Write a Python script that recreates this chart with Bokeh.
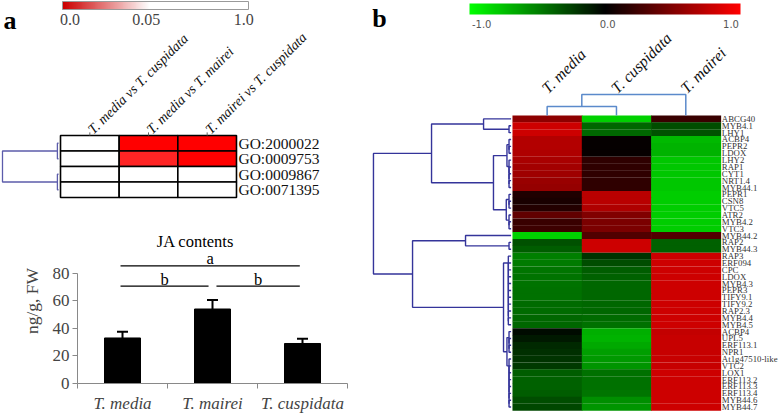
import math
from bokeh.plotting import figure
from bokeh.models import (Range1d, ColumnDataSource, LinearColorMapper, ColorBar,
                          FixedTicker, Whisker, TeeHead, Label, Grid)
from bokeh.layouts import row, column
from bokeh.embed import file_html
from bokeh.resources import INLINE
from bokeh.core.properties import value

SERIF = "Liberation Serif"

# ---------------- data: panel a (GO enrichment p-values) ----------------
a_comparisons = ["T. media vs T. cuspidata", "T. media vs T. mairei", "T. mairei  vs T. cuspidata"]
a_terms = ["GO:2000022", "GO:0009753", "GO:0009867", "GO:0071395"]
a_p_media_cusp = [0.32, 0.41, 0.62, 0.55]
a_p_media_mairei = [0.000, 0.007, 0.18, 0.21]
a_p_mairei_cusp = [0.000, 0.000, 0.27, 0.33]
a_tree = ((0, 1, 0.02), (2, 3, 0.02), 1.0)
a_cbar_labels = ["0.0", "0.05", "1.0"]

# ---------------- data: panel c (JA contents) ----------------
c_species = ["T. media", "T. mairei", "T. cuspidata"]
c_ja = [33.0, 54.0, 29.0]
c_err = [4.5, 6.6, 3.5]
c_y_ticks = [0, 20, 40, 60, 80]
c_sig_letters = ["a", "b", "b"]
c_sig_from = [0, 0, 1]
c_sig_to = [2, 1, 2]
c_sig_level = [85.3, 70.6, 70.6]

# ---------------- data: panel b (expression heatmap) ----------------
b_samples = ["T. media", "T. cuspidata", "T. mairei"]
b_genes = ["ABCG40", "MYB4.1", "LHY1", "ACBP4", "PEPR2", "LDOX", "LHY2", "RAP1", "CYT1",
           "NRT1.4", "MYB44.1", "PEPR1", "CSN8", "VTC5", "ATR2", "MYB4.2", "VTC3", "MYB44.2",
           "RAP2", "MYB44.3", "RAP3", "ERF094", "CPC", "LDOX", "MYB4.3", "PEPR3", "TIFY9.1",
           "TIFY9.2", "RAP2.3", "MYB4.4", "MYB4.5", "ACBP4", "UPL5", "ERF113.1", "NPR1",
           "At1g47510-like", "VTC2", "LOX1", "ERF113.2", "ERF113.3", "ERF113.4", "MYB44.6",
           "MYB44.7"]
b_media = [0.55, 0.80, 0.80, 0.70, 0.70, 0.68, 0.66, 0.64, 0.62, 0.60, 0.58, 0.12, 0.10,
           0.14, 0.38, 0.22, 0.24, -0.82, -0.32, -0.36, -0.50, -0.48, -0.46, -0.45, -0.45,
           -0.44, -0.44, -0.42, -0.42, -0.40, -0.40, -0.04, -0.10, -0.16, -0.18, -0.20,
           -0.22, -0.36, -0.38, -0.38, -0.36, -0.30, -0.28]
b_cuspidata = [-0.82, -0.40, -0.40, 0.02, 0.02, 0.03, 0.18, 0.18, 0.18, 0.18, 0.18, 0.72,
               0.72, 0.68, 0.50, 0.48, 0.48, 0.32, 0.80, 0.80, -0.20, -0.30, -0.36, -0.38,
               -0.40, -0.40, -0.40, -0.40, -0.40, -0.42, -0.44, -0.68, -0.70, -0.66, -0.62,
               -0.60, -0.58, -0.44, -0.44, -0.44, -0.46, -0.56, -0.58]
b_mairei = [0.22, -0.30, -0.32, -0.72, -0.70, -0.70, -0.78, -0.78, -0.78, -0.78, -0.78,
            -0.80, -0.80, -0.80, -0.80, -0.80, -0.80, 0.32, -0.38, -0.38, 0.80, 0.80, 0.80,
            0.80, 0.80, 0.80, 0.80, 0.80, 0.80, 0.80, 0.80, 0.76, 0.78, 0.78, 0.78, 0.78,
            0.78, 0.80, 0.80, 0.80, 0.80, 0.80, 0.80]
b_col_tree = ((0, 1, 0.43), 2, 1.0)
b_cbar_labels = ["-1.0", "0.0", "1.0"]


def comb(leaves, h):
    """chain of merges at one height (tight cluster), top leaf joined last"""
    node = leaves[-1]
    for leaf in reversed(leaves[:-1]):
        node = (leaf, node, h)
    return node


b_row_tree = (
    ((0, comb([1, 2], 0.015), 0.2),
     ((comb([3, 4, 5], 0.015), comb([6, 7, 8, 9, 10], 0.015), 0.03),
      (comb([11, 12, 13], 0.015), comb([14, 15, 16], 0.015), 0.035), 0.128), 0.578),
    ((17, comb([18, 19], 0.015), 0.331),
     (comb(list(range(20, 31)), 0.02),
      (comb([31, 32, 33, 34], 0.015), comb(list(range(35, 43)), 0.015), 0.03), 0.055), 0.716),
    1.0)


def dendro(node, shapes):
    """returns (position, height); appends U-shapes as ([h...], [pos...])"""
    if isinstance(node, int):
        return node + 0.5, 0.0
    left, right, h = node
    p1, h1 = dendro(left, shapes)
    p2, h2 = dendro(right, shapes)
    shapes.append(([h1, h, h, h2], [p1, p1, p2, p2]))
    return (p1 + p2) / 2.0, h


def tidy(p):
    p.outline_line_color = None
    p.background_fill_color = "white"
    p.border_fill_color = "white"
    p.frame_align = False
    p.center = [r for r in p.center if not isinstance(r, Grid)]


# ======================= panel a =======================
pa = figure(width=360, height=218, output_backend="svg", toolbar_location=None,
            x_range=Range1d(-1.023, 5.114), y_range=Range1d(5.355, -8.71),
            x_axis_location=None, y_axis_location=None, min_border=0)
tidy(pa)

red_white = ["#%02x%02x%02x" % (255, int(255 * i / 49), int(255 * i / 49)) for i in range(50)]
map_a = LinearColorMapper(palette=red_white, low=0.0, high=0.05, high_color="#ffffff")

a_cols = [a_p_media_cusp, a_p_media_mairei, a_p_mairei_cusp]
ax, ay, ap = [], [], []
for r in range(len(a_terms)):
    for c in range(len(a_comparisons)):
        ax.append(c + 0.5)
        ay.append(r + 0.5)
        ap.append(a_cols[c][r])
pa.rect(x="x", y="y", width=1, height=1, source=ColumnDataSource(dict(x=ax, y=ay, p=ap)),
        fill_color={"field": "p", "transform": map_a}, line_color="black", line_width=1.6)

ncol_a = len(a_comparisons)
pa.multi_line(xs=[[c + 0.5, c + 0.5] for c in range(ncol_a)], ys=[[0, -0.2]] * ncol_a,
              line_color="#666666", line_width=1)
pa.text(x=[c + 0.51 for c in range(ncol_a)], y=[-0.25] * ncol_a, text=a_comparisons,
        angle=math.radians(45), text_font=value(SERIF), text_font_style="italic",
        text_font_size="14px", text_align="left", text_baseline="alphabetic",
        text_color="#111111")
pa.text(x=[3.034] * len(a_terms), y=[r + 0.5 for r in range(len(a_terms))], text=a_terms,
        text_font=value(SERIF), text_font_size="15.5px", text_align="left",
        text_baseline="middle", text_color="#111111")

shapes = []
dendro(a_tree, shapes)
pa.multi_line(xs=[[-0.034 - h * 0.955 for h in s[0]] for s in shapes], ys=[s[1] for s in shapes],
              line_color="#5c5cab", line_width=1.3)

pa.text(x=[-0.972], y=[-7.42], text=["a"], text_font=value(SERIF), text_font_style="bold",
        text_font_size="26px", text_align="left", text_baseline="middle")

cb_pal_a = []
for i in range(100):
    if i < 47:
        t = i / 46.0
        cb_pal_a.append("#%02x%02x%02x" % (int(204 + 51 * t), int(255 * t), int(255 * t)))
    else:
        cb_pal_a.append("#ffffff")
map_a_bar = LinearColorMapper(palette=cb_pal_a, low=0.0, high=1.0)
tick_pos_a = [0.04, 0.45, 0.975]
cb_a = ColorBar(color_mapper=map_a_bar, orientation="horizontal", location=(62, 191),
                width=186, height=8, padding=0, ticker=FixedTicker(ticks=tick_pos_a),
                major_label_overrides=dict(zip(tick_pos_a, a_cbar_labels)),
                major_label_text_font=SERIF, major_label_text_font_size="16px",
                major_tick_line_color=None, minor_tick_line_color=None,
                bar_line_color="#9a9a9a", bar_line_width=1, label_standoff=4,
                background_fill_alpha=0, border_line_color=None)
pa.add_layout(cb_a, "center")

# ======================= panel c =======================
pc = figure(width=360, height=197, output_backend="svg", toolbar_location=None,
            x_range=Range1d(0, 3), y_range=Range1d(0, 119.6),
            min_border_left=77, min_border_right=13, min_border_top=0, min_border_bottom=31)
tidy(pc)

GRAY = "#898989"
pc.yaxis.ticker = FixedTicker(ticks=c_y_ticks)
pc.yaxis.bounds = (0, 80)
pc.yaxis.major_tick_in = 0
pc.yaxis.major_tick_out = 5
pc.yaxis.minor_tick_line_color = None
pc.yaxis.axis_line_color = GRAY
pc.yaxis.major_tick_line_color = GRAY
pc.yaxis.major_label_text_font = SERIF
pc.yaxis.major_label_text_font_size = "17px"
pc.yaxis.major_label_standoff = 3
pc.yaxis.axis_label = "ng/g, FW"
pc.yaxis.axis_label_text_font = SERIF
pc.yaxis.axis_label_text_font_size = "17.5px"
pc.yaxis.axis_label_text_font_style = "normal"
pc.yaxis.axis_label_standoff = 8

xc = [i + 0.5 for i in range(len(c_species))]
pc.xaxis.ticker = FixedTicker(ticks=xc, minor_ticks=list(range(len(c_species) + 1)))
pc.xaxis.major_label_overrides = dict(zip(xc, c_species))
pc.xaxis.major_tick_line_color = None
pc.xaxis.major_tick_in = 0
pc.xaxis.major_tick_out = 0
pc.xaxis.minor_tick_in = 0
pc.xaxis.minor_tick_out = 5
pc.xaxis.minor_tick_line_color = GRAY
pc.xaxis.axis_line_color = GRAY
pc.xaxis.major_label_text_font = SERIF
pc.xaxis.major_label_text_font_style = "italic"
pc.xaxis.major_label_text_font_size = "17px"
pc.xaxis.major_label_standoff = 5

pc.vbar(x=xc, top=c_ja, width=0.4, fill_color="black", line_color="black")
wsrc = ColumnDataSource(dict(x=xc, lo=c_ja, hi=[v + e for v, e in zip(c_ja, c_err)]))
pc.add_layout(Whisker(base="x", lower="lo", upper="hi", source=wsrc, line_width=2,
                      line_color="black", lower_head=None,
                      upper_head=TeeHead(size=11, line_width=2, line_color="black")))

sx0, sx1 = [], []
for f, t in zip(c_sig_from, c_sig_to):
    sx0.append(f + 0.5 + (0.044 if f == 1 else -0.022))
    sx1.append(t + 0.5 - (0.044 if t == 1 else 0.03))
pc.multi_line(xs=[[a, b] for a, b in zip(sx0, sx1)], ys=[[v, v] for v in c_sig_level],
              line_color="black", line_width=1.3)
pc.text(x=[(a + b) / 2 for a, b in zip(sx0, sx1)], y=[v + 5.0 for v in c_sig_level],
        text=c_sig_letters, text_font=value(SERIF), text_font_size="16.5px",
        text_align="center", text_baseline="middle")
pc.text(x=[1.311], y=[103.1], text=["JA contents"], text_font=value(SERIF),
        text_font_size="16.5px", text_align="center", text_baseline="middle")
pc.add_layout(Label(x=-0.756, y=91.5, text="c", text_font=SERIF, text_font_style="bold",
                    text_font_size="26px", text_align="center", text_baseline="middle"))

# ======================= panel b =======================
pb = figure(width=418, height=415, output_backend="svg", toolbar_location=None,
            x_range=Range1d(-2.192, 3.837), y_range=Range1d(43.73, -16.76),
            x_axis_location=None, y_axis_location=None, min_border=0)
tidy(pb)

pal_b = []
for i in range(256):
    t = i / 255.0 * 2 - 1
    if t < 0:
        pal_b.append("#%02x%02x%02x" % (0, int(round(255 * -t)), 0))
    else:
        pal_b.append("#%02x%02x%02x" % (int(round(255 * t)), 0, 0))
map_b = LinearColorMapper(palette=pal_b, low=-1.0, high=1.0)

b_cols = [b_media, b_cuspidata, b_mairei]
bx, by, bv = [], [], []
for r in range(len(b_genes)):
    for c in range(len(b_samples)):
        bx.append(c + 0.5)
        by.append(r + 0.5)
        bv.append(b_cols[c][r])
pb.rect(x="x", y="y", width=1, height=1, source=ColumnDataSource(dict(x=bx, y=by, v=bv)),
        fill_color={"field": "v", "transform": map_b}, line_color=None, dilate=True)

pb.text(x=[3.02] * len(b_genes), y=[r + 0.5 for r in range(len(b_genes))], text=b_genes,
        text_font=value(SERIF), text_font_size="8.8px", text_align="left",
        text_baseline="middle", text_color="#333333")

nb = len(b_samples)
pb.text(x=[c + 0.46 for c in range(nb)], y=[-3.64] * nb, text=b_samples,
        angle=math.radians(45), text_font=value(SERIF), text_font_style="italic",
        text_font_size="16px", text_align="left", text_baseline="alphabetic",
        text_color="#111111")

shapes = []
dendro(b_row_tree, shapes)
pb.multi_line(xs=[[-0.02 - h * 1.985 for h in s[0]] for s in shapes], ys=[s[1] for s in shapes],
              line_color="#34349a", line_width=1.4)

shapes = []
dendro(b_col_tree, shapes)
pb.multi_line(xs=[s[1] for s in shapes], ys=[[-h * 3.06 for h in s[0]] for s in shapes],
              line_color="#5b8acb", line_width=1.5)

pb.text(x=[-1.918], y=[-14.14], text=["b"], text_font=value(SERIF), text_font_style="bold",
        text_font_size="26px", text_align="center", text_baseline="middle")

tick_pos_b = [-0.91, 0.02, 0.93]
cb_b = ColorBar(color_mapper=map_b, orientation="horizontal", location=(109, 385),
                width=271, height=11, padding=0, ticker=FixedTicker(ticks=tick_pos_b),
                major_label_overrides=dict(zip(tick_pos_b, b_cbar_labels)),
                major_label_text_font="DejaVu Sans", major_label_text_font_size="10px",
                major_label_text_color="#555555",
                major_tick_line_color=None, minor_tick_line_color=None,
                bar_line_color=None, label_standoff=5,
                background_fill_alpha=0, border_line_color=None)
pb.add_layout(cb_b, "center")

layout = row(column(pa, pc), pb)
open("out.html", "w").write(file_html(layout, INLINE))
